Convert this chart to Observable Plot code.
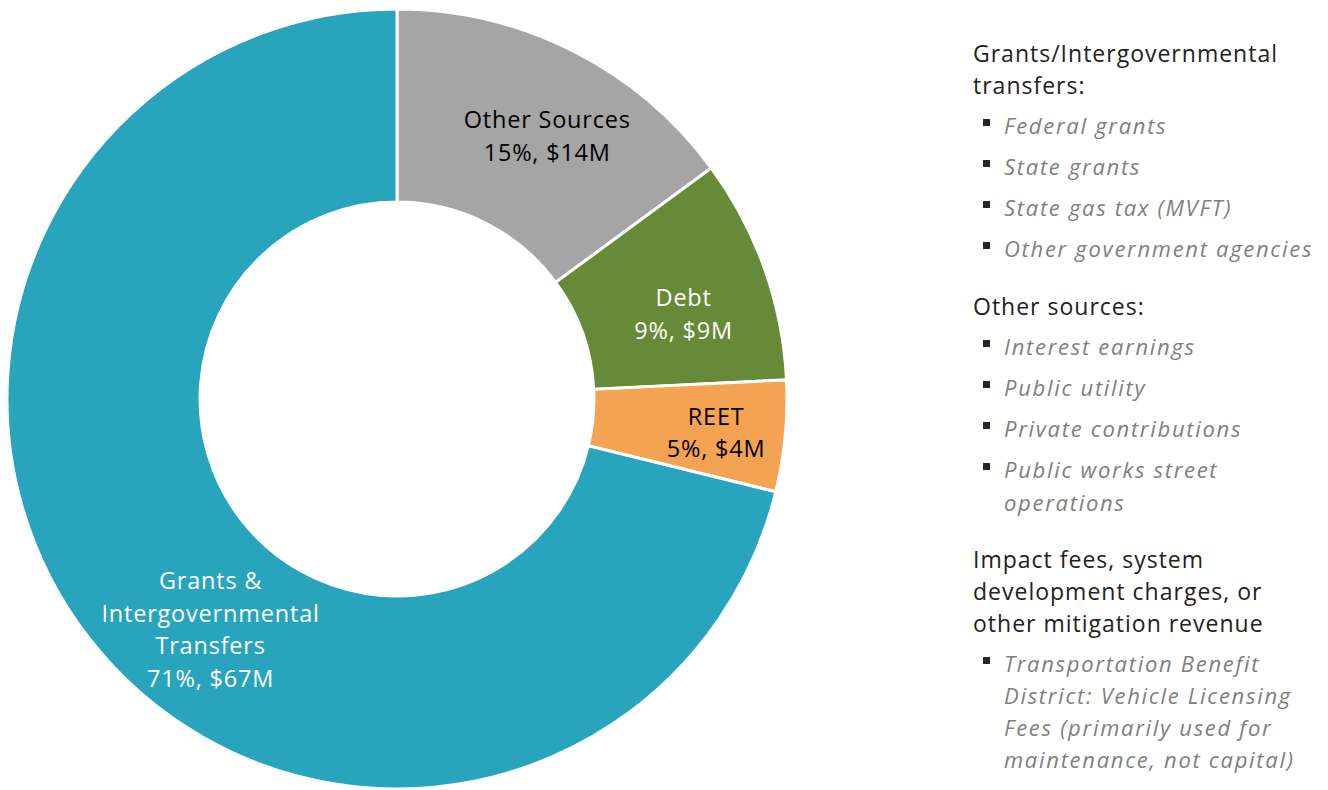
<!DOCTYPE html>
<html>
<head>
<meta charset="utf-8">
<script src="https://cdn.jsdelivr.net/npm/d3@7"></script>
<script src="https://cdn.jsdelivr.net/npm/@observablehq/plot@0.6"></script>
<style>
  html, body { margin: 0; padding: 0; background: #ffffff; }
  body { font-family: "Open Sans", sans-serif; }
  #wrap { position: relative; width: 1328px; height: 790px; overflow: hidden; }
  #chart { position: absolute; left: 0; top: 0; }
  #chart text { letter-spacing: 0.8px; }
  #legend { position: absolute; left: 973px; top: 37px; width: 355px; }
  .hd { font-size: 23px; line-height: 32px; color: #222222; white-space: pre-line; margin-top: 24.5px; letter-spacing: 1px; }
  .hd:first-child { margin-top: 0; }
  ul { list-style: none; margin: 0; padding: 0; }
  li { position: relative; padding-left: 31px; font-style: italic; color: #7f7f7f;
       font-size: 22px; line-height: 33px; margin-top: 8px; white-space: pre-line; letter-spacing: 1.7px; }
  ul:last-child li { line-height: 32px; }
  li::before { content: ""; position: absolute; left: 10px; top: 10px; width: 7px; height: 7px; background: #262626; }
</style>
</head>
<body>
<div id="wrap">
  <div id="chart"></div>
  <div id="legend"></div>
</div>
<script>
// ---- data ----
const categories = ["Other Sources", "Debt", "REET", "Grants & Intergovernmental Transfers"];
const values = [14.1, 8.8, 4.35, 67.3];           // $M
const sliceLabels = [
  "Other Sources\n15%, $14M",
  "Debt\n9%, $9M",
  "REET\n5%, $4M",
  "Grants &\nIntergovernmental\nTransfers\n71%, $67M"
];
const sliceColors = ["#a5a5a5", "#668a37", "#f4a352", "#29a4bd"];
const labelColors = ["#000000", "#ffffff", "#000000", "#ffffff"];

const legendHeaders = [
  "Grants/Intergovernmental\ntransfers:",
  "Other sources:",
  "Impact fees, system\ndevelopment charges, or\nother mitigation revenue"
];
const legendItemsGrants = ["Federal grants", "State grants", "State gas tax (MVFT)", "Other government agencies"];
const legendItemsOther = ["Interest earnings", "Public utility", "Private contributions", "Public works street\noperations"];
const legendItemsImpact = ["Transportation Benefit\nDistrict: Vehicle Licensing\nFees (primarily used for\nmaintenance, not capital)"];

// ---- build ----
const rows = categories.map((c, i) => ({category: c, value: values[i], label: sliceLabels[i], labelColor: labelColors[i]}));
const arcs = d3.pie().sort(null).value(d => d.value)(rows);

const innerFrac = 0.505;
// label placement tweaks (angle offset in degrees, radius as fraction of outer radius)
const labelPlacement = [[2.6, 0.781], [2.6, 0.767], [0.07, 0.821], [-12.53, 0.756]];
const labelRows = arcs.map((a, i) => {
  const mid = (a.startAngle + a.endAngle) / 2 + labelPlacement[i][0] * Math.PI / 180;
  const r = labelPlacement[i][1];
  return {x: r * Math.sin(mid), y: r * Math.cos(mid), label: a.data.label, fill: a.data.labelColor};
});

const colorScale = Plot.scale({color: {type: "ordinal", domain: categories, range: sliceColors}});

function donut(index, scales) {
  const cx = scales.x(0), cy = scales.y(0);
  const R = Math.abs(scales.x(1) - scales.x(0));
  const arc = d3.arc().innerRadius(R * innerFrac).outerRadius(R);
  const g = d3.create("svg:g").attr("transform", `translate(${cx},${cy})`);
  g.selectAll("path")
    .data(arcs)
    .join("path")
    .attr("d", arc)
    .attr("fill", d => colorScale.apply(d.data.category))
    .attr("stroke", "#ffffff")
    .attr("stroke-width", 3)
    .attr("stroke-linejoin", "miter");
  return g.node();
}

const chart = Plot.plot({
  width: 800,
  height: 790,
  marginLeft: 7,
  marginRight: 13,
  marginTop: 9,
  marginBottom: 1,
  x: {domain: [-1, 1], axis: null},
  y: {domain: [-1, 1], axis: null},
  style: {background: "#ffffff", overflow: "visible"},
  marks: [
    donut,
    Plot.text(labelRows, {
      x: "x", y: "y", text: "label", fill: "fill",
      fontSize: 23.5, fontFamily: "Open Sans", lineHeight: 1.4,
      textAnchor: "middle", lineAnchor: "middle"
    })
  ]
});
document.getElementById("chart").appendChild(chart);

// ---- legend ----
const legend = d3.select("#legend");
const groups = [legendItemsGrants, legendItemsOther, legendItemsImpact];
legendHeaders.forEach((h, i) => {
  legend.append("div").attr("class", "hd").text(h);
  const ul = legend.append("ul");
  groups[i].forEach(t => ul.append("li").text(t));
});
</script>
</body>
</html>
